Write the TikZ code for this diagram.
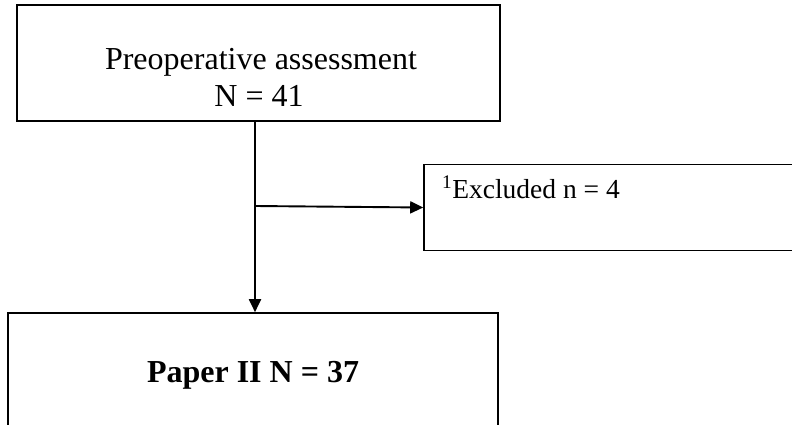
\documentclass[tikz,border=0pt]{standalone}
\usepackage{fontspec}
\setmainfont{Liberation Serif}
\usetikzlibrary{arrows.meta, positioning, calc}

\begin{document}
\begin{tikzpicture}[x=1pt, y=-1pt,
    box/.style={draw, line width=1.6pt, inner sep=0pt},
    txt/.style={inner sep=0pt, font=\fontsize{32}{38}\selectfont},
    flow/.style={line width=1.9pt, -{Triangle[length=13pt, width=12pt]}}]

    \useasboundingbox (0,0) rectangle (792,425);
    \clip (0,0) rectangle (792,425);

    % --- Boxes of the flow chart.
    \node[box, minimum width=483pt, minimum height=116pt] (pre) at (258.5,63) {};
    \node[box, minimum width=390pt, minimum height=86pt] (excl) at (619,207.5) {};
    \node[box, minimum width=490pt, minimum height=140pt] (paper) at (253,383) {};

    % --- Texts in the boxes.
    \node[txt, anchor=base] (preT) at (261,70) {Preoperative assessment};
    \node[txt, anchor=base] (preN) at (259,107) {N = 41};
    \node[txt, anchor=base west, font=\fontsize{27.5}{32}\selectfont] (exclT) at (442,198)
        {\textsuperscript{1}Excluded n = 4};
    \node[txt, anchor=base, font=\fontsize{32}{38}\selectfont\bfseries] (paperT) at (253,382)
        {Paper II N = 37};

    % --- Connectors.
    \coordinate (split) at (255,206);
    \draw[flow] (pre.south -| split) -- (paper.north -| split);
    \draw[flow] (split) -- (excl.west);
\end{tikzpicture}
\end{document}
